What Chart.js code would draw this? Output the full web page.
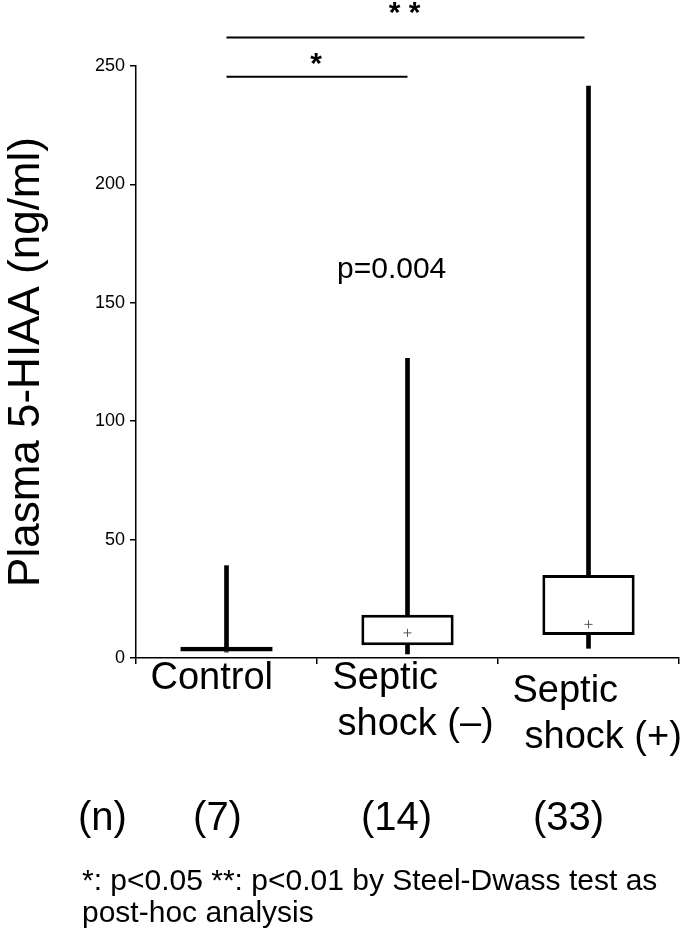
<!DOCTYPE html>
<html>
<head>
<meta charset="utf-8">
<script src="https://cdn.jsdelivr.net/npm/chart.js@4.4.1/dist/chart.umd.min.js"></script>
<style>
  html, body { margin: 0; padding: 0; background: #fff; }
  #wrap { position: relative; width: 685px; height: 934px; }
</style>
</head>
<body>
<div id="wrap"><canvas id="c"></canvas></div>
<script>
// ---- data ----
const categories = ['Control', 'Septic shock (–)', 'Septic shock (+)'];
const labelLines = [['Control'], ['Septic', 'shock (–)'], ['Septic', 'shock (+)']];
const whiskerLow = [2.5, 1.7, 4.1];
const boxLow = [2.7, 5.4, 9.7];
const boxHigh = [4.7, 18.3, 35.0];
const whiskerHigh = [39.0, 126.6, 241.5];
const means = [null, 10.6, 14.2];
const sampleSizes = ['(7)', '(14)', '(33)'];
const yTickValues = [0, 50, 100, 150, 200, 250];
const comparisons = [
  { from: 0, to: 1, level: 245.5, label: '*' },
  { from: 0, to: 2, level: 262, label: '* *' }
];
const pText = 'p=0.004';
const yTitle = 'Plasma 5-HIAA (ng/ml)';
const footnote = ['*: p<0.05 **: p<0.01 by Steel-Dwass test as', 'post-hoc analysis'];

const FONT = "'Liberation Sans', Arial, Helvetica, sans-serif";

const annot = {
  id: 'annot',
  afterDraw(chart) {
    const ctx = chart.ctx;
    const xs = chart.scales.x, ys = chart.scales.y;
    ctx.save();
    ctx.fillStyle = '#000';
    ctx.strokeStyle = '#000';
    // significance brackets
    const starLift = [4, 16];
    comparisons.forEach((c, k) => {
      const x1 = xs.getPixelForValue(c.from);
      const x2 = xs.getPixelForValue(c.to) - (k === 1 ? 4 : 0);
      const y = ys.getPixelForValue(c.level);
      ctx.lineWidth = 2;
      ctx.beginPath(); ctx.moveTo(x1, y); ctx.lineTo(x2, y); ctx.stroke();
      ctx.font = 'bold 30px ' + FONT;
      ctx.textAlign = 'center';
      ctx.textBaseline = 'alphabetic';
      ctx.fillText(c.label, (x1 + x2) / 2 - 1, y - starLift[k]);
    });
    // p value
    ctx.font = '30px ' + FONT;
    ctx.textAlign = 'left';
    ctx.fillText(pText, 337, 278);
    // x labels
    ctx.font = '38px ' + FONT;
    ctx.textAlign = 'left';
    const lineOff = [[-76], [-75, -70], [-76, -64]];
    const baseY = [689, 689, 702];
    labelLines.forEach((lines, i) => {
      const cx = xs.getPixelForValue(i);
      lines.forEach((t, j) => {
        ctx.fillText(t, cx + lineOff[i][j], baseY[i] + j * 46);
      });
    });
    // n row
    ctx.font = '40px ' + FONT;
    ctx.textAlign = 'left';
    ctx.fillText('(n)', 78, 830);
    ctx.textAlign = 'center';
    const nOff = [-9, -11, -20];
    sampleSizes.forEach((t, i) => {
      ctx.fillText(t, xs.getPixelForValue(i) + nOff[i], 830);
    });
    // footnote
    ctx.font = '30px ' + FONT;
    ctx.textAlign = 'left';
    footnote.forEach((t, j) => ctx.fillText(t, 82, 890 + j * 32));
    ctx.restore();
  }
};

new Chart(document.getElementById('c'), {
  type: 'bar',
  data: {
    labels: categories,
    datasets: [
      {
        label: 'upper whisker',
        data: categories.map((_, i) => [boxHigh[i], whiskerHigh[i]]),
        backgroundColor: '#000', borderWidth: 0,
        barThickness: 4, grouped: false, order: 3
      },
      {
        label: 'lower whisker',
        data: categories.map((_, i) => [whiskerLow[i], boxLow[i]]),
        backgroundColor: '#000', borderWidth: 0,
        barThickness: 4, grouped: false, order: 3
      },
      {
        label: 'box',
        data: categories.map((_, i) => [boxLow[i], boxHigh[i]]),
        backgroundColor: '#fff', borderColor: '#000', borderWidth: 3,
        borderSkipped: false, categoryPercentage: 1, barPercentage: 0.51,
        grouped: false, order: 2
      },
      {
        type: 'line',
        label: 'mean',
        data: means,
        showLine: false,
        pointStyle: 'cross', pointRadius: 4, pointBorderWidth: 1,
        borderColor: '#555', backgroundColor: '#555', order: 1
      }
    ]
  },
  options: {
    responsive: true,
    maintainAspectRatio: false,
    animation: false,
    layout: { padding: { top: 66, right: 6, bottom: 266, left: 0 } },
    plugins: { legend: { display: false }, tooltip: { enabled: false } },
    scales: {
      x: {
        type: 'category',
        offset: true,
        grid: { offset: true, drawOnChartArea: false, drawTicks: true, tickLength: 6, color: '#000', lineWidth: 1.5 },
        border: { color: '#000', width: 1.5 },
        ticks: { display: false },
        afterFit(s) { s.height = 10; }
      },
      y: {
        min: 0, max: 250,
        afterBuildTicks(s) { s.ticks = yTickValues.map(v => ({ value: v })); },
        grid: { drawOnChartArea: false, drawTicks: true, tickLength: 6, color: '#000', lineWidth: 1.5 },
        border: { color: '#000', width: 1.5 },
        ticks: { color: '#000', font: { family: FONT, size: 18 }, padding: 5 },
        title: { display: true, text: yTitle, color: '#000', font: { family: FONT, size: 44 }, padding: 0 },
        afterFit(s) { s.width = 136; }
      }
    }
  },
  plugins: [annot]
});
</script>
</body>
</html>
